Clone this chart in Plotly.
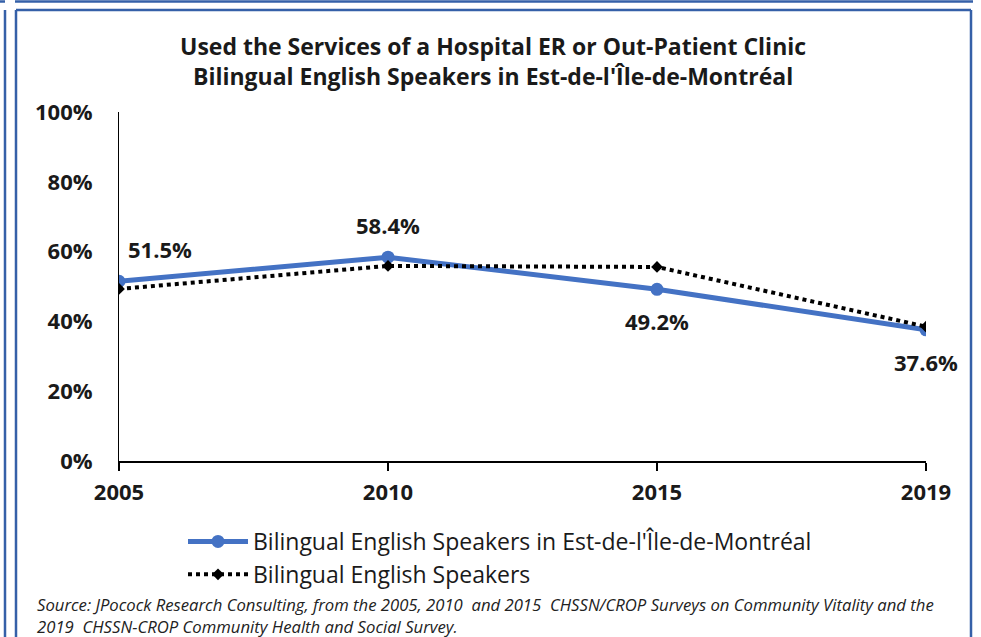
import plotly.graph_objects as go

years = ["2005", "2010", "2015", "2019"]
est_values = [51.5, 58.4, 49.2, 37.6]
all_values = [49.3, 55.9, 55.6, 38.5]
y_ticks = [0, 20, 40, 60, 80, 100]
y_ticktext = ["0%", "20%", "40%", "60%", "80%", "100%"]
label_text = ["51.5%", "58.4%", "49.2%", "37.6%"]

W, H = 981, 637
L, R, T, B = 119, 55, 112, 176
PW, PH = W - L - R, H - T - B

def px_x(p):
    return (p - L) / PW

def px_y(p):
    return (H - B - p) / PH

FONT = "Open Sans"
BORDER = "#3560A8"
TXT = "#1a1a1a"

fig = go.Figure()
fig.add_trace(go.Scatter(
    x=years, y=est_values, mode="lines+markers",
    name="Bilingual English Speakers in Est-de-l'Île-de-Montréal",
    line=dict(color="#4472C4", width=5),
    marker=dict(symbol="circle", size=13, color="#4472C4"),
))
fig.add_trace(go.Scatter(
    x=years, y=all_values, mode="lines+markers",
    name="Bilingual English Speakers",
    line=dict(color="black", width=4, dash="dot"),
    marker=dict(symbol="diamond", size=9, color="black"),
))

# data labels for the main series (category index positions)
offsets = [(41, 32), (0, 32), (0, -32), (0, -32)]
for i, (v, t, (dx, dy)) in enumerate(zip(est_values, label_text, offsets)):
    fig.add_annotation(x=i, y=v, text=t, showarrow=False, xshift=dx, yshift=dy,
                       font=dict(family=FONT, size=22, color=TXT, weight="bold"))

fig.add_annotation(
    xref="paper", yref="paper", x=px_x(35), y=px_y(615), xanchor="left", yanchor="middle",
    align="left", showarrow=False,
    text="<i>Source: JPocock Research Consulting, from the 2005, 2010  and 2015  CHSSN/CROP Surveys on Community Vitality and the<br>2019  CHSSN-CROP Community Health and Social Survey.</i>",
    font=dict(family=FONT, size=16.7, color="#222222"),
)

# title as annotation for precise placement
fig.add_annotation(
    xref="paper", yref="paper", x=px_x(493), y=px_y(61), xanchor="center", yanchor="middle",
    showarrow=False, align="center",
    text="Used the Services of a Hospital ER or Out-Patient Clinic<br>Bilingual English Speakers in Est-de-l'Île-de-Montréal",
    font=dict(family=FONT, size=23, color=TXT, weight="bold"),
)

shapes = []
def line(x0, y0, x1, y1, w=2.5):
    shapes.append(dict(type="line", xref="paper", yref="paper",
                       x0=px_x(x0), y0=px_y(y0), x1=px_x(x1), y1=px_y(y1),
                       line=dict(color=BORDER, width=w)))
line(15, 1.5, 973, 1.5)
line(0, 1.5, 5, 1.5)
line(5, 10, 5, 637)
line(16, 10, 971, 10)
line(16, 10, 16, 637)
line(971, 10, 971, 637)

fig.update_layout(
    width=W, height=H,
    margin=dict(l=L, r=R, t=T, b=B),
    paper_bgcolor="white", plot_bgcolor="white",
    xaxis=dict(type="category", range=[0, 3], showgrid=False, showline=True,
               linecolor="black", linewidth=2, ticks="outside", ticklen=8,
               tickcolor="black", tickwidth=2, ticklabelstandoff=3,
               tickfont=dict(family=FONT, size=22, color=TXT, weight="bold")),
    yaxis=dict(range=[0, 100], tickvals=y_ticks, ticktext=y_ticktext,
               showgrid=False, showline=True, linecolor="black", linewidth=1,
               ticks="", zeroline=False, ticklabelstandoff=21,
               tickfont=dict(family=FONT, size=22, color=TXT, weight="bold")),
    legend=dict(x=px_x(183), y=px_y(520), xanchor="left", yanchor="top",
                font=dict(family=FONT, size=23, color=TXT),
                tracegroupgap=0, itemwidth=60, bgcolor="rgba(0,0,0,0)"),
    shapes=shapes,
)

fig.write_html("out.html", config={"displayModeBar": False},
               post_script="document.body.style.margin='0';document.body.style.padding='0';")
